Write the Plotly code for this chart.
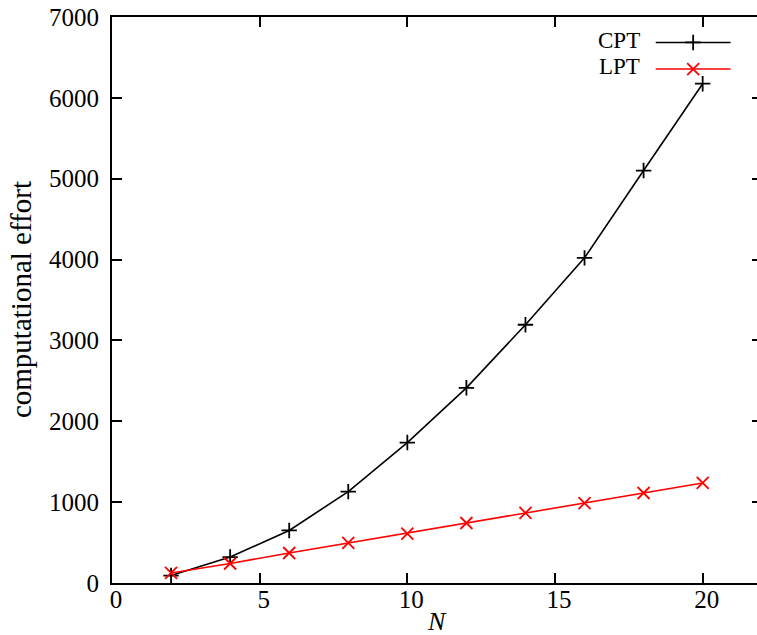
import plotly.graph_objects as go

# Problem size and computational effort for both methods
N = [2, 4, 6, 8, 10, 12, 14, 16, 18, 20]
cpt_effort = [92, 321, 650, 1130, 1737, 2414, 3194, 4021, 5101, 6175]
lpt_effort = [124, 241, 371, 495, 611, 742, 866, 989, 1113, 1237]

x_ticks = [0, 5, 10, 15, 20]
y_ticks = [0, 1000, 2000, 3000, 4000, 5000, 6000, 7000]

series_names = ["CPT", "LPT"]
series_colors = ["#000000", "#ff0000"]
series_symbols = ["cross-thin", "x-thin"]
marker_sizes = [11, 12]

FONT = "Liberation Serif"
W, H = 757, 635
ML, MR, MT, MB = 112, 0, 17, 52

fig = go.Figure()

for name, ys, col, sym, ms in zip(series_names, [cpt_effort, lpt_effort],
                                  series_colors, series_symbols, marker_sizes):
    fig.add_trace(go.Scatter(
        x=N, y=ys, name=name, mode="lines+markers",
        line=dict(color=col, width=1.6),
        marker=dict(symbol=sym, size=ms, line=dict(color=col, width=1.8)),
        showlegend=False, cliponaxis=False,
    ))

# Key in the upper right: label on the left, line sample with marker on the right
key_x0, key_x1 = 0.843, 0.959
key_y = [0.955, 0.908]
for name, col, sym, ms, ky in zip(series_names, series_colors, series_symbols,
                                  marker_sizes, key_y):
    fig.add_trace(go.Scatter(
        x=[key_x0, key_x1], y=[ky, ky], mode="lines",
        line=dict(color=col, width=1.6), xaxis="x2", yaxis="y2",
        showlegend=False, hoverinfo="skip",
    ))
    fig.add_trace(go.Scatter(
        x=[(key_x0 + key_x1) / 2], y=[ky], mode="markers",
        marker=dict(symbol=sym, size=ms, line=dict(color=col, width=1.8)),
        xaxis="x2", yaxis="y2", showlegend=False, hoverinfo="skip",
    ))
    fig.add_annotation(
        x=0.822, y=ky + 0.004, xref="paper", yref="paper",
        text=name, showarrow=False, xanchor="right", yanchor="middle",
        font=dict(family=FONT, size=23, color="black"),
    )

axis_font = dict(family=FONT, size=25, color="black")

fig.update_layout(
    width=W, height=H,
    margin=dict(l=ML, r=MR, t=MT, b=MB),
    paper_bgcolor="white", plot_bgcolor="white",
    xaxis=dict(
        range=[0, 21.84], tickvals=x_ticks, ticks="inside", ticklen=10,
        tickwidth=1.5, tickcolor="black", showline=True, linecolor="black",
        linewidth=2, mirror="ticks", showgrid=False, zeroline=False,
        tickfont=axis_font, ticklabelshift=4, ticklabelstandoff=-7,
    ),
    yaxis=dict(
        range=[0, 7000], tickvals=y_ticks, ticks="inside", ticklen=10,
        tickwidth=1.5, tickcolor="black", showline=True, linecolor="black",
        linewidth=2, showgrid=False, zeroline=False, tickfont=axis_font,
        ticklabelstandoff=6,
    ),
    yaxis3=dict(
        range=[0, 7000], tickvals=y_ticks, ticks="inside", ticklen=5,
        tickwidth=1.5, tickcolor="black", showline=False, overlaying="y",
        side="right", showticklabels=False, showgrid=False, zeroline=False,
    ),
    xaxis2=dict(range=[0, 1], overlaying="x", visible=False),
    yaxis2=dict(range=[0, 1], overlaying="y", visible=False),
)

# empty trace bound to the right-hand axis so its ticks are drawn
fig.add_trace(go.Scatter(x=[None], y=[None], yaxis="y3", showlegend=False,
                         hoverinfo="skip"))

fig.add_annotation(
    x=-0.141, y=0.5, xref="paper", yref="paper", text="computational effort",
    textangle=-90, showarrow=False, xanchor="center", yanchor="middle",
    font=dict(family=FONT, size=29, color="black"),
)
fig.add_annotation(
    x=0.504, y=-0.068, xref="paper", yref="paper", text="<i>N</i>",
    showarrow=False, xanchor="center", yanchor="middle",
    font=dict(family=FONT, size=26, color="black"),
)

fig.write_html("out.html")
